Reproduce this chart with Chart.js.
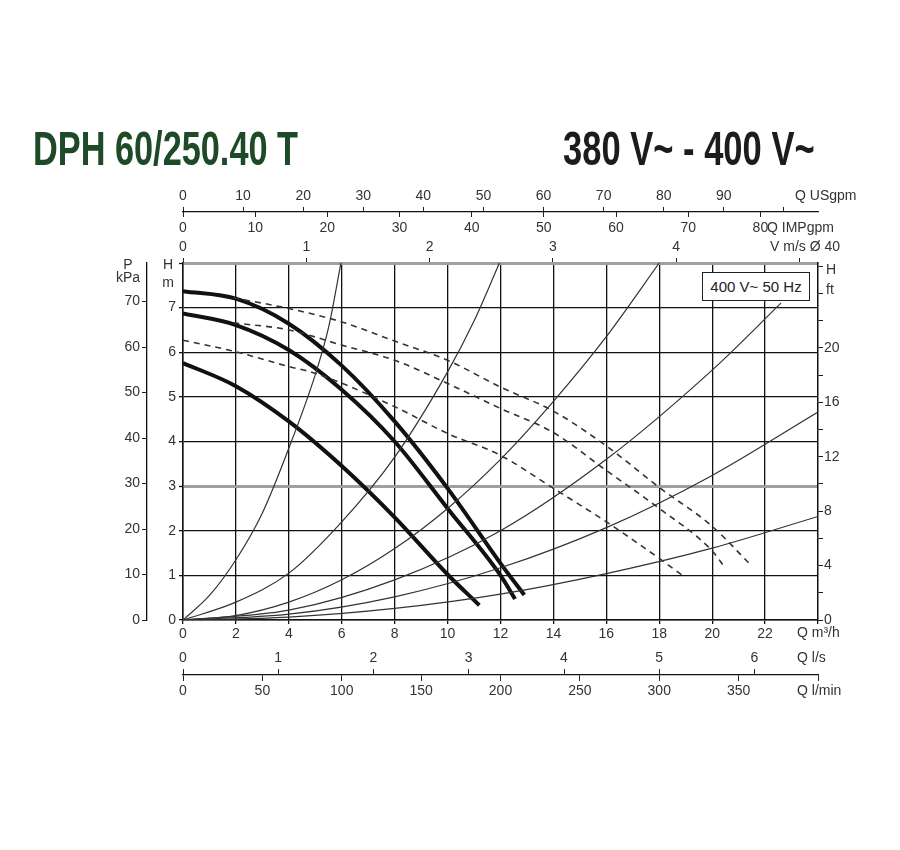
<!DOCTYPE html>
<html>
<head>
<meta charset="utf-8">
<script src="https://cdn.jsdelivr.net/npm/chart.js@4.4.0/dist/chart.umd.min.js"></script>
<style>
body { margin: 0; background: #fff; }
#wrap { position: relative; width: 900px; height: 850px; }
.big { position: absolute; top: 124px; font-family: 'Liberation Sans Narrow', 'Arial Narrow', 'Liberation Sans', sans-serif; font-weight: bold; font-size: 49px; line-height: 49px; white-space: nowrap; transform-origin: 0 0; }
#title { left: 33px; color: #1e4a28; transform: scaleX(0.70); }
#volt { left: 563px; color: #1c1c1c; transform: scaleX(0.705); }
#box { position: absolute; left: 702px; top: 272px; width: 106px; height: 27px; border: 1px solid #222; background: #fff; color: #222; font: 15px 'Liberation Sans Narrow', 'Arial Narrow', 'Liberation Sans', sans-serif; line-height: 27px; text-align: center; }
</style>
</head>
<body>
<div id="wrap">
  <canvas id="myChart" width="900" height="850"></canvas>
  <div id="title" class="big">DPH 60/250.40 T</div>
  <div id="volt" class="big">380 V~ - 400 V~</div>
  <div id="box">400 V~ 50 Hz</div>
</div>
<script>
// pump curves (thick), Q m3/h -> H m
var pumpQ1 = [0, 2, 4, 6, 8, 10, 12, 12.9]
var pumpH1 = [7.37, 7.2, 6.64, 5.7, 4.45, 2.95, 1.27, 0.56]
var pumpQ2 = [0, 2, 4, 6, 8, 10, 12, 12.55]
var pumpH2 = [6.87, 6.61, 6.05, 5.16, 4.0, 2.5, 1.0, 0.47]
var pumpQ3 = [0, 2, 4, 6, 8, 10, 11.2]
var pumpH3 = [5.76, 5.24, 4.45, 3.45, 2.3, 1.02, 0.33]

// dashed curves
var dashQ1 = [1.9, 4, 6, 8, 10, 12, 14, 16, 18, 20, 21.4]
var dashH1 = [7.22, 6.98, 6.68, 6.25, 5.82, 5.22, 4.68, 3.9, 2.97, 2.1, 1.27]
var dashQ2 = [1.9, 4, 6, 8, 10, 12, 14, 16, 18, 20, 20.45]
var dashH2 = [6.66, 6.5, 6.16, 5.82, 5.3, 4.74, 4.2, 3.35, 2.5, 1.55, 1.2]
var dashQ3 = [0, 2, 4, 5, 8, 10, 12, 14, 16, 18, 18.94]
var dashH3 = [6.27, 6.01, 5.68, 5.53, 4.78, 4.18, 3.69, 2.95, 2.2, 1.38, 0.97]

// system curves (thin)
var sysQ1 = [0, 1, 2, 3, 4, 5, 5.5, 5.97]
var sysH1 = [0, 0.55, 1.35, 2.4, 3.85, 5.5, 6.55, 8]
var sysQ2 = [0, 2, 4, 6, 8, 10, 11, 11.96]
var sysH2 = [0, 0.4, 1.05, 2.2, 3.65, 5.56, 6.7, 8]
var sysQ3 = [0, 2, 4, 6, 8, 10, 12, 14, 16, 18]
var sysH3 = [0, 0.1, 0.4, 0.9, 1.6, 2.5, 3.6, 4.9, 6.35, 8]
var sysQ4 = [0, 4, 8, 12, 16, 20, 22.6]
var sysH4 = [0, 0.22, 0.9, 2.0, 3.6, 5.6, 7.1]
var sysQ5 = [0, 4, 8, 12, 16, 20, 24]
var sysH5 = [0, 0.13, 0.52, 1.17, 2.07, 3.24, 4.66]
var sysQ6 = [0, 4, 8, 12, 16, 20, 24]
var sysH6 = [0, 0.065, 0.26, 0.58, 1.04, 1.61, 2.32]

// axes
var qMax = 24
var hMax = 8
var ftLabels = [0, 4, 8, 12, 16, 20]
var usgpmPerM3h = 4.403
var impgpmPerM3h = 3.666
var m3hPerLs = 3.6
var lminPerM3h = 1000 / 60
var m3hPerMs = 4.66   // V m/s in DN40
var kpaPerM = 9.81
var ftPerM = 3.281

var tickFamily = "'Liberation Sans Narrow', 'Arial Narrow', 'Liberation Sans', sans-serif"
var tickColor = '#333'
var tickSize = 14

function points(qs, hs) {
    var out = []
    for (var i = 0; i < qs.length; i++) {
        out.push({x: qs[i], y: hs[i]})
    }
    return out
}

function line(qs, hs, width, dash) {
    return {
        data: points(qs, hs),
        showLine: true,
        pointRadius: 0,
        borderColor: width > 2 ? '#111' : '#333',
        borderWidth: width,
        borderDash: dash || [],
        cubicInterpolationMode: 'monotone',
        fill: false
    }
}

function fixSize(size) {
    return function (scale) {
        if (scale.isHorizontal()) scale.height = size
        else scale.width = size
    }
}

function tks(step, padding, callback) {
    var t = {
        stepSize: step,
        padding: padding,
        color: tickColor,
        font: {family: tickFamily, size: tickSize},
        autoSkip: false,
        maxRotation: 0,
        includeBounds: false
    }
    if (callback) t.callback = callback
    return t
}

var datasets = [
    line(sysQ1, sysH1, 1.2),
    line(sysQ2, sysH2, 1.2),
    line(sysQ3, sysH3, 1.2),
    line(sysQ4, sysH4, 1.2),
    line(sysQ5, sysH5, 1.2),
    line(sysQ6, sysH6, 1.2),
    line(dashQ1, dashH1, 1.6, [6, 5]),
    line(dashQ2, dashH2, 1.6, [6, 5]),
    line(dashQ3, dashH3, 1.6, [6, 5]),
    line(pumpQ1, pumpH1, 4),
    line(pumpQ2, pumpH2, 4),
    line(pumpQ3, pumpH3, 4)
]

var captions = {
    id: 'captions',
    afterDraw: function (chart) {
        var c = chart.ctx
        var a = chart.chartArea
        c.save()
        c.fillStyle = tickColor
        c.font = tickSize + 'px ' + tickFamily
        c.textBaseline = 'middle'
        c.textAlign = 'left'
        c.fillText('Q USgpm', a.right - 23, a.top - 67)
        c.fillText('Q IMPgpm', a.right - 51, a.top - 35)
        c.fillText('V m/s \u00D8 40', a.right - 48, a.top - 16)
        c.fillText('Q m\u00B3/h', a.right - 21, a.bottom + 13)
        c.fillText('Q l/s', a.right - 21, a.bottom + 38)
        c.fillText('Q l/min', a.right - 21, a.bottom + 71)
        c.fillText('H', a.right + 8, a.top + 7)
        c.fillText('ft', a.right + 8, a.top + 27)
        c.textAlign = 'center'
        c.fillText('P', a.left - 55, a.top + 2)
        c.fillText('kPa', a.left - 55, a.top + 15)
        c.fillText('H', a.left - 15, a.top + 2)
        c.fillText('m', a.left - 15, a.top + 20)
        c.restore()
    }
}

var ctx = document.getElementById('myChart').getContext('2d')
var myChart = new Chart(ctx, {
    type: 'scatter',
    data: {datasets: datasets},
    options: {
        responsive: false,
        animation: false,
        events: [],
        layout: {padding: {left: 110, right: 50, top: 180, bottom: 145}},
        plugins: {legend: {display: false}, tooltip: {enabled: false}},
        scales: {
            x: {
                type: 'linear', position: 'bottom', weight: 0, min: 0, max: qMax,
                afterFit: fixSize(25),
                ticks: tks(2, 1.5, function (v) { return v >= qMax ? '' : v }),
                grid: {color: '#111', lineWidth: 1.3, tickLength: 4},
                border: {color: '#111', width: 1.5}
            },
            xLs: {
                type: 'linear', position: 'bottom', weight: 1, min: 0, max: qMax / m3hPerLs,
                afterFit: fixSize(30),
                ticks: tks(1, -25.4),
                grid: {drawOnChartArea: false, color: '#222', tickLength: 30, tickBorderDash: [0, 24, 6, 100]},
                border: {display: false}
            },
            xLmin: {
                type: 'linear', position: 'bottom', weight: 2, min: 0, max: qMax * lminPerM3h,
                afterFit: fixSize(30),
                ticks: tks(50, 1.5, function (v) { return v >= 400 ? '' : v }),
                grid: {drawOnChartArea: false, color: '#222', tickLength: 6},
                border: {color: '#111', width: 1.3}
            },
            xV: {
                type: 'linear', position: 'top', weight: 0, min: 0, max: qMax / m3hPerMs,
                afterFit: fixSize(26),
                ticks: tks(1, 2.5, function (v) { return v >= 5 ? '' : v }),
                grid: {drawOnChartArea: false, color: '#222', tickLength: 5},
                border: {color: '#a0a0a0', width: 3}
            },
            xImp: {
                type: 'linear', position: 'top', weight: 1, min: 0, max: qMax * impgpmPerM3h,
                afterFit: fixSize(25),
                ticks: tks(10, -24.4),
                grid: {drawOnChartArea: false, color: '#222', tickLength: 25, tickBorderDash: [5, 100]},
                border: {display: false}
            },
            xUs: {
                type: 'linear', position: 'top', weight: 2, min: 0, max: qMax * usgpmPerM3h,
                afterFit: fixSize(32),
                ticks: tks(10, 2.5, function (v) { return v >= 100 ? '' : v }),
                grid: {drawOnChartArea: false, color: '#222', tickLength: 5},
                border: {color: '#111', width: 1.3}
            },
            y: {
                type: 'linear', position: 'left', weight: 0, min: 0, max: hMax,
                afterFit: fixSize(36),
                ticks: tks(1, 3, function (v) { return v >= hMax ? '' : v }),
                grid: {
                    color: function (c) { return (c.tick && (c.tick.value == 3 || c.tick.value == hMax)) ? '#a0a0a0' : '#111' },
                    lineWidth: function (c) { return (c.tick && (c.tick.value == 3 || c.tick.value == hMax)) ? 3 : 1.3 },
                    tickColor: '#111', tickWidth: 1.3, tickLength: 4
                },
                border: {color: '#111', width: 1.5}
            },
            yKpa: {
                type: 'linear', position: 'left', weight: 1, min: 0, max: hMax * kpaPerM,
                afterFit: fixSize(37),
                ticks: tks(10, 2),
                grid: {drawOnChartArea: false, color: '#222', tickLength: 5},
                border: {color: '#111', width: 1.3}
            },
            yFt: {
                type: 'linear', position: 'right', weight: 0, min: 0, max: hMax * ftPerM,
                afterFit: fixSize(32),
                ticks: tks(2, 1, function (v) { return ftLabels.indexOf(v) >= 0 ? v : '' }),
                grid: {drawOnChartArea: false, color: '#222', tickLength: 5},
                border: {color: '#111', width: 1.3}
            }
        }
    },
    plugins: [captions]
})
</script>
</body>
</html>
